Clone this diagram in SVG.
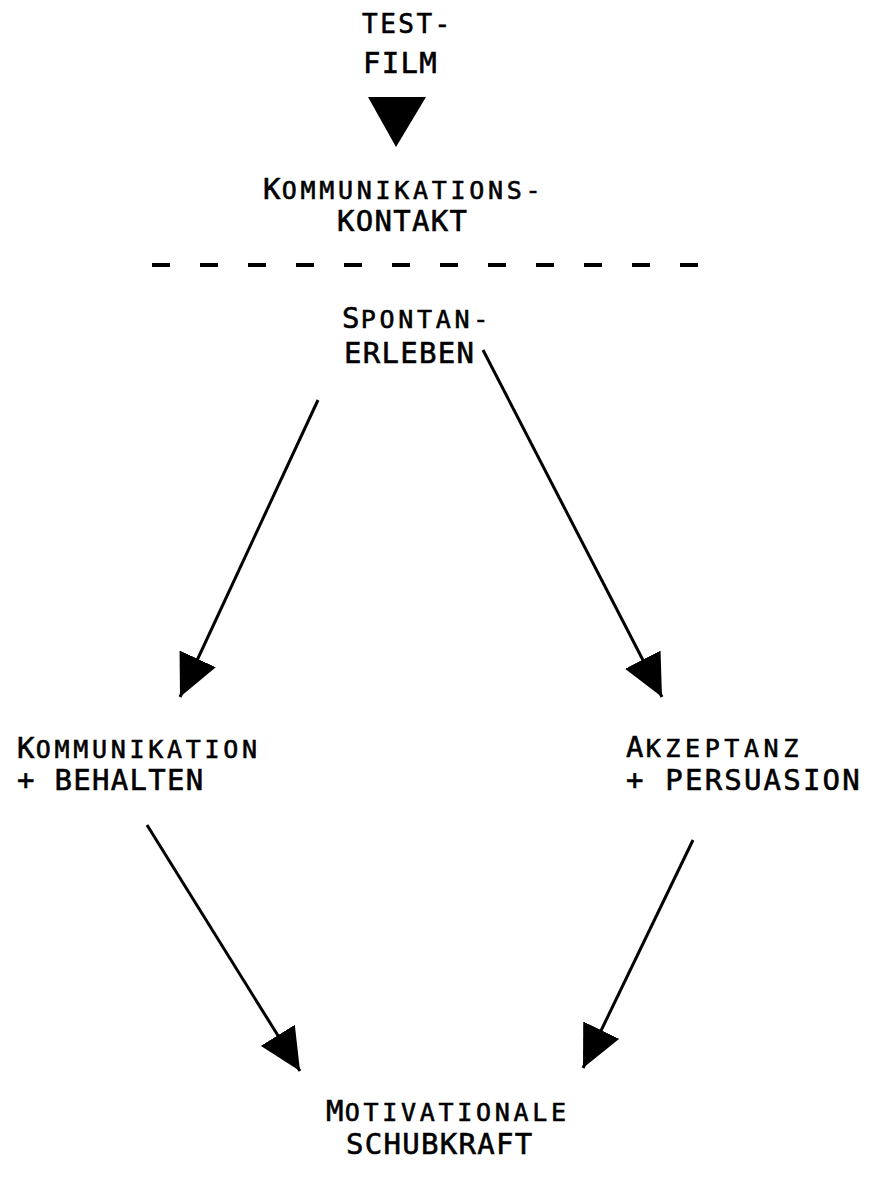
<svg xmlns="http://www.w3.org/2000/svg" width="872" height="1180" viewBox="0 0 872 1180">
<style>
  text { font-family: "DejaVu Sans Mono", "Liberation Mono", monospace; fill: #000; stroke: #000; stroke-width: 0.6px; font-size: 29px; letter-spacing: 1.3px; }
  .sc { font-size: 25px; letter-spacing: 3.7px; }
  .wide { letter-spacing: 2.2px; }
  .wide .sc { letter-spacing: 4.6px; }
  .conn { stroke: #000; stroke-width: 3; fill: none; }
  .div { stroke: #000; stroke-width: 4; stroke-dasharray: 18 30; fill: none; }
</style>
<defs>
  <marker id="ah" viewBox="0 0 42 40" refX="42" refY="20" markerWidth="42" markerHeight="40" markerUnits="userSpaceOnUse" orient="auto">
    <path d="M0,0 L42,20 L0,40 Z" fill="#000"/>
  </marker>
</defs>
<rect width="872" height="1180" fill="#fff"/>

<g id="node-testfilm">
  <text x="362" y="33" style="font-size:26px;letter-spacing:2.5px">TEST-</text>
  <text x="363" y="73">FILM</text>
</g>
<g id="node-kontakt">
  <text x="263" y="199">K<tspan class="sc">OMMUNIKATIONS-</tspan></text>
  <text x="337" y="231">KONTAKT</text>
</g>
<g id="node-spontan">
  <text x="342" y="328">S<tspan class="sc">PONTAN-</tspan></text>
  <text x="344" y="363">ERLEBEN</text>
</g>
<g id="node-kommunikation">
  <text x="17" y="758">K<tspan class="sc">OMMUNIKATION</tspan></text>
  <text x="17" y="790">+ BEHALTEN</text>
</g>
<g id="node-akzeptanz" class="wide">
  <text x="626" y="757" class="wide">A<tspan class="sc">KZEPTANZ</tspan></text>
  <text x="626" y="790" class="wide">+ PERSUASION</text>
</g>
<g id="node-motivation">
  <text x="326" y="1121">M<tspan class="sc">OTIVATIONALE</tspan></text>
  <text x="346" y="1154">SCHUBKRAFT</text>
</g>

<g id="connectors">
  <polygon points="368,97 426,97 396,147" fill="#000"/>
  <line class="div" x1="152" y1="265" x2="698" y2="265"/>
  <line class="conn" x1="318" y1="400" x2="180" y2="697" marker-end="url(#ah)"/>
  <line class="conn" x1="483" y1="350" x2="662" y2="697" marker-end="url(#ah)"/>
  <line class="conn" x1="147" y1="825" x2="300" y2="1071" marker-end="url(#ah)"/>
  <line class="conn" x1="693" y1="840" x2="583" y2="1068" marker-end="url(#ah)"/>
</g>
</svg>
